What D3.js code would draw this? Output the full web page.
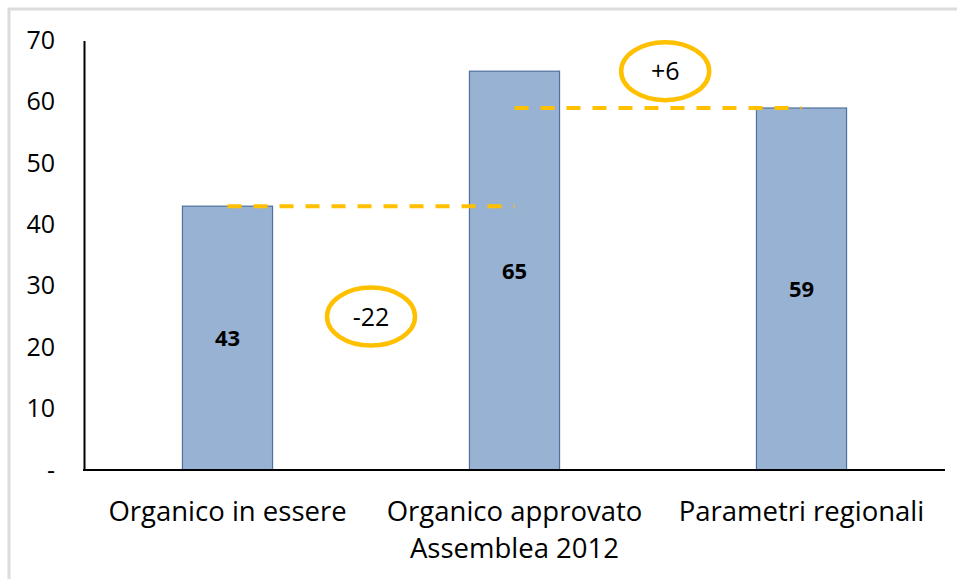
<!DOCTYPE html>
<html>
<head>
<meta charset="utf-8">
<script src="https://cdn.jsdelivr.net/npm/d3@7"></script>
<style>
  body { margin: 0; background: #fff; }
  svg { display: block; font-family: "Open Sans", "Noto Sans", sans-serif; }
</style>
</head>
<body>
<svg id="chart"></svg>
<script>
// categories and values
var categories = [["Organico in essere"], ["Organico approvato", "Assemblea 2012"], ["Parametri regionali"]];
var values = [43, 65, 59];
var yTicks = [0, 10, 20, 30, 40, 50, 60, 70];

// differences between neighbouring bars (label, from, to, y position of the ellipse, x position between the bars)
var diffLabels = ["-22", "+6"];
var diffFrom = [0, 1];
var diffTo = [1, 2];
var diffY = [25, 65];
var diffPos = [0.5, 0.525];

var size = {
    width: 957,
    height: 579,
    top: 40.5,
    bottom: 470,
    left: 84,
    right: 945
};

var svg = d3.select("#chart")
    .attr("width", size.width)
    .attr("height", size.height);

// light frame of the pasted picture
svg.append("path")
    .attr("d", "M9," + size.height + "V9H" + size.width)
    .attr("fill", "none")
    .attr("stroke", "#dcdcdc")
    .attr("stroke-width", 3);

var x = d3.scaleBand()
    .domain(d3.range(categories.length))
    .range([size.left, size.right])
    .paddingInner(0.686)
    .paddingOuter(0.343);

var y = d3.scaleLinear()
    .domain([0, 70])
    .range([size.bottom, size.top]);

var cx = function(i) { return x(i) + x.bandwidth() / 2; };

// y axis
var yAxis = d3.axisLeft(y)
    .tickValues(yTicks)
    .tickSize(0)
    .tickPadding(29)
    .tickFormat(d => d === 0 ? "-" : d);

var gy = svg.append("g")
    .attr("transform", "translate(" + size.left + ",0)")
    .call(yAxis);
gy.select(".domain").attr("stroke", "#000").attr("stroke-width", 2);
gy.selectAll(".tick text")
    .attr("font-size", 25)
    .attr("fill", "#000")
    .attr("font-family", "'Open Sans', sans-serif");

// bars
svg.selectAll("rect.bar")
    .data(values)
    .enter()
    .append("rect")
    .attr("class", "bar")
    .attr("x", (d, i) => x(i))
    .attr("y", d => y(d))
    .attr("width", x.bandwidth())
    .attr("height", d => y(0) - y(d))
    .attr("fill", "#97b2d3")
    .attr("stroke", "#50719e")
    .attr("stroke-width", 1.2);

// value labels in the middle of each bar
svg.selectAll("text.val")
    .data(values)
    .enter()
    .append("text")
    .attr("class", "val")
    .attr("x", (d, i) => cx(i))
    .attr("y", d => y(d / 2))
    .attr("dy", "0.36em")
    .attr("text-anchor", "middle")
    .attr("font-size", 22)
    .attr("font-weight", "bold")
    .attr("fill", "#000")
    .text(d => d);

// x axis line
svg.append("line")
    .attr("x1", size.left - 1)
    .attr("x2", size.right)
    .attr("y1", y(0))
    .attr("y2", y(0))
    .attr("stroke", "#000")
    .attr("stroke-width", 2);

// category labels
svg.selectAll("text.cat")
    .data(categories)
    .enter()
    .append("text")
    .attr("class", "cat")
    .attr("x", (d, i) => cx(i))
    .attr("y", 521)
    .attr("text-anchor", "middle")
    .attr("font-size", 27.5)
    .attr("fill", "#000")
    .each(function(d, i) {
        d3.select(this).selectAll("tspan")
            .data(d)
            .enter()
            .append("tspan")
            .attr("x", cx(i))
            .attr("dy", (t, j) => j === 0 ? 0 : 37)
            .text(t => t);
    });

// dashed connectors from one bar to the next, at the lower of the two heights
svg.selectAll("line.conn")
    .data(diffFrom)
    .enter()
    .append("line")
    .attr("class", "conn")
    .attr("x1", d => cx(d))
    .attr("x2", (d, i) => cx(diffTo[i]))
    .attr("y1", (d, i) => y(Math.min(values[d], values[diffTo[i]])))
    .attr("y2", (d, i) => y(Math.min(values[d], values[diffTo[i]])))
    .attr("stroke", "#ffc000")
    .attr("stroke-width", 4)
    .attr("stroke-dasharray", "14,12");

// ellipses with the difference
var ell = svg.selectAll("g.diff")
    .data(diffLabels)
    .enter()
    .append("g")
    .attr("class", "diff")
    .attr("transform", (d, i) => {
        var px = cx(diffFrom[i]) + (cx(diffTo[i]) - cx(diffFrom[i])) * diffPos[i];
        return "translate(" + px + "," + y(diffY[i]) + ")";
    });

ell.append("ellipse")
    .attr("rx", 44)
    .attr("ry", 29)
    .attr("fill", "none")
    .attr("stroke", "#ffc000")
    .attr("stroke-width", 4.5);

ell.append("text")
    .attr("text-anchor", "middle")
    .attr("dy", "0.36em")
    .attr("font-size", 25)
    .attr("fill", "#000")
    .text(d => d);
</script>
</body>
</html>
